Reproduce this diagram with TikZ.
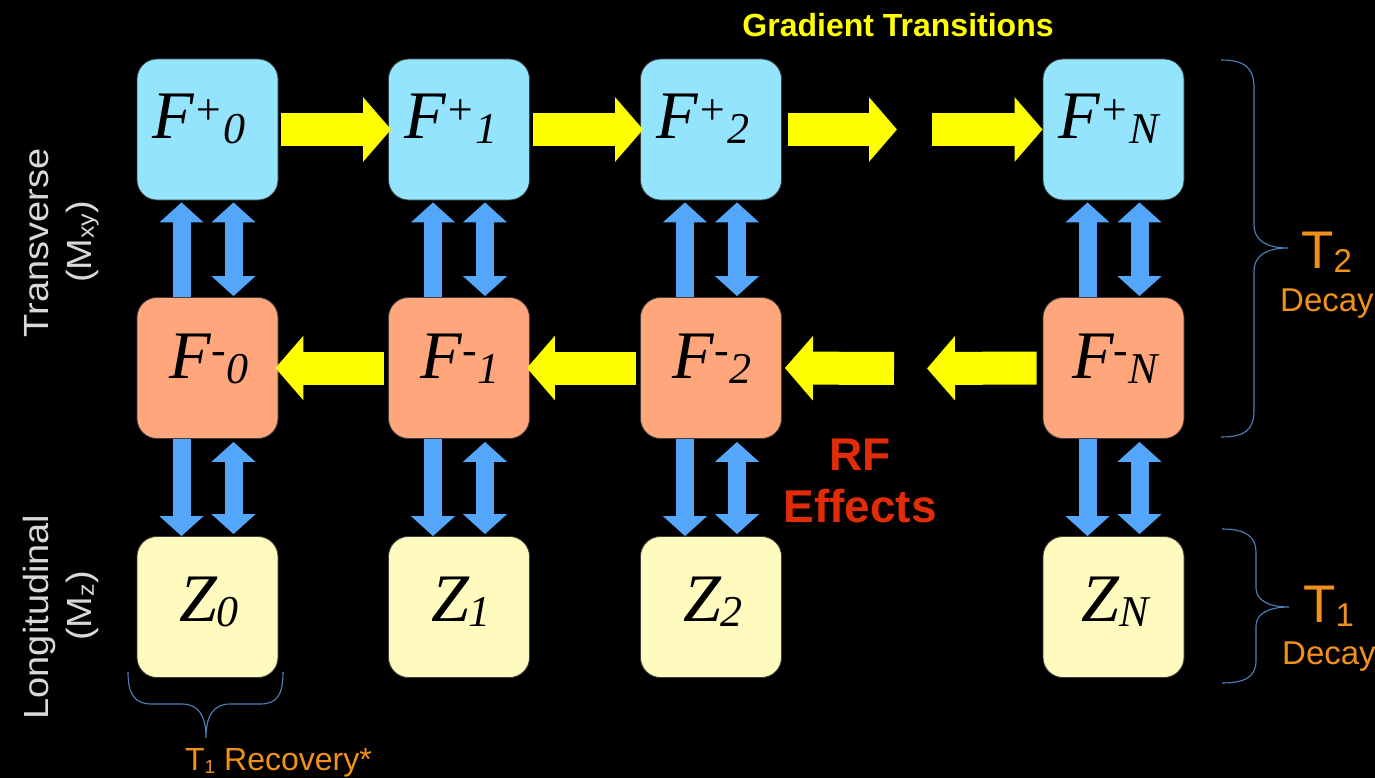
\documentclass[tikz,border=0pt]{standalone}
\usepackage{fontspec}
\setmainfont{Liberation Sans}
\newfontfamily\tnr{Liberation Serif}
\usetikzlibrary{arrows.meta}

\definecolor{cplus}{RGB}{148,228,254}
\definecolor{cminus}{RGB}{255,166,124}
\definecolor{clong}{RGB}{255,250,190}
\definecolor{boxedge}{RGB}{60,60,60}
\definecolor{cyel}{RGB}{255,255,0}
\definecolor{cblue}{RGB}{84,166,250}
\definecolor{cbrace}{RGB}{79,129,189}
\definecolor{corange}{RGB}{240,145,25}
\definecolor{cred}{RGB}{226,44,8}
\definecolor{cgray}{RGB}{217,217,217}

% state label: big italic letter, raised sign, lowered index
\newcommand\statelab[3]{{\tnr\itshape\fontsize{68}{68}\selectfont #1\raisebox{14pt}{\fontsize{44}{44}\selectfont #2}\raisebox{-5pt}{\fontsize{44}{44}\selectfont #3}}}

\tikzset{
  box/.style={draw=boxedge, line width=0.8pt, rounded corners=20pt,
    minimum width=141pt, minimum height=141pt, inner sep=0pt},
  plusbox/.style={box, fill=cplus},
  minusbox/.style={box, fill=cminus},
  longbox/.style={box, fill=clong},
  lab/.style={inner sep=0pt, text=black},
  yarrow/.style={draw=cyel, line width=33pt, -{Triangle[length=28pt,width=63pt]}},
  bsingle/.style={draw=cblue, line width=18pt, -{Triangle[length=20pt,width=43pt]}},
  bdouble/.style={draw=cblue, line width=18pt, {Triangle[length=20pt,width=43pt]}-{Triangle[length=20pt,width=43pt]}},
  bracepath/.style={draw=cbrace, line width=1.1pt},
  sidelab/.style={inner sep=0pt, text=cgray, rotate=90, anchor=base},
}

\begin{document}
\begin{tikzpicture}[x=1pt,y=-1pt]
\fill[black] (0,0) rectangle (1375,778);
\useasboundingbox (0,0) rectangle (1375,778);

% ---- state boxes ----
\node[plusbox] (p0) at (207.5,129.5) {};
\node[plusbox] (p1) at (459,129.5) {};
\node[plusbox] (p2) at (711,129.5) {};
\node[plusbox] (pN) at (1113.5,129.5) {};
\node[minusbox] (m0) at (207.5,368) {};
\node[minusbox] (m1) at (459,368) {};
\node[minusbox] (m2) at (711,368) {};
\node[minusbox] (mN) at (1113.5,368) {};
\node[longbox] (z0) at (207.5,607) {};
\node[longbox] (z1) at (459,607) {};
\node[longbox] (z2) at (711,607) {};
\node[longbox] (zN) at (1113.5,607) {};

% ---- state labels ----
\node[lab, anchor=base west] (lp0) at (152,139) {\statelab{F}{+}{0}};
\node[lab, anchor=base west] (lp1) at (404,139) {\statelab{F}{+}{1}};
\node[lab, anchor=base west] (lp2) at (656,139) {\statelab{F}{+}{2}};
\node[lab, anchor=base west] (lpN) at (1058,139) {\statelab{F}{+}{N}};
\node[lab, anchor=base] (lm0) at (209,378) {\statelab{F}{-}{0}};
\node[lab, anchor=base] (lm1) at (460,378) {\statelab{F}{-}{1}};
\node[lab, anchor=base] (lm2) at (712,378) {\statelab{F}{-}{2}};
\node[lab, anchor=base] (lmN) at (1115,378) {\statelab{F}{-}{N}};
\node[lab, anchor=base] (lz0) at (209,621) {\statelab{Z}{}{0}};
\node[lab, anchor=base] (lz1) at (461,621) {\statelab{Z}{}{1}};
\node[lab, anchor=base] (lz2) at (713,621) {\statelab{Z}{}{2}};
\node[lab, anchor=base] (lzN) at (1115.5,621) {\statelab{Z}{}{N}};

% ---- gradient transitions (yellow) ----
\coordinate (g1) at (897,129.5);
\coordinate (g2) at (932,129.5);
\coordinate (h1) at (894,368.5);
\coordinate (h2) at (927,368.5);
\draw[yarrow] ([xshift=3pt]p0.east) -- ([xshift=3pt]p1.west);
\draw[yarrow] ([xshift=3pt]p1.east) -- ([xshift=3pt]p2.west);
\draw[yarrow] ([xshift=6pt]p2.east) -- (g1);
\draw[yarrow] (g2) -- (pN.west);
\draw[yarrow] ([xshift=-4pt]m1.west) -- ([xshift=-3pt]m0.east);
\draw[yarrow] ([xshift=-4pt]m2.west) -- ([xshift=-3pt]m1.east);
\draw[yarrow] (h1) -- ([xshift=3pt]m2.east);
\draw[yarrow] ([xshift=-6pt]mN.west) -- (h2);

% ---- RF effects (blue) ----
\foreach \c in {0,1,2,N}{
  \draw[bsingle] ([xshift=-26pt]m\c.north) -- ([xshift=-26pt,yshift=-2pt]p\c.south);
  \draw[bdouble] ([xshift=26pt,yshift=-2pt]p\c.south) -- ([xshift=26pt,yshift=1pt]m\c.north);
  \draw[bsingle] ([xshift=-26pt]m\c.south) -- ([xshift=-26pt]z\c.north);
  \draw[bdouble] ([xshift=26pt,yshift=-3pt]m\c.south) -- ([xshift=26pt,yshift=2pt]z\c.north);
}

% ---- titles ----
\node[inner sep=0pt, anchor=base, text=cyel, font=\bfseries\fontsize{32}{32}\selectfont] (grad) at (898,37) {Gradient Transitions};
\node[inner sep=0pt, anchor=base, text=cred, font=\bfseries\fontsize{46}{46}\selectfont] (rf1) at (860,470) {RF};
\node[inner sep=0pt, anchor=base, text=cred, font=\bfseries\fontsize{46}{46}\selectfont] (rf2) at (860,522) {Effects};

% ---- side labels ----
\node[sidelab] (trans) at (48,243) {\scalebox{1}[0.92]{\fontsize{38}{38}\selectfont Transverse}};
\node[sidelab] (mxy) at (91,242) {\scalebox{1}[0.92]{\fontsize{38}{38}\selectfont (M\raisebox{-3pt}{\fontsize{25}{25}\selectfont xy})}};
\node[sidelab] (longi) at (48,617) {\scalebox{1}[0.92]{\fontsize{38}{38}\selectfont Longitudinal}};
\node[sidelab] (mz) at (91,606) {\scalebox{1}[0.92]{\fontsize{38}{38}\selectfont (M\raisebox{-3pt}{\fontsize{25}{25}\selectfont z})}};

% ---- relaxation braces ----
\draw[bracepath] (1221,60) .. controls (1245,60) and (1254,68) .. (1254,88) -- (1254,225)
  .. controls (1254,240) and (1266,248) .. (1288,248)
  .. controls (1266,248) and (1254,256) .. (1254,271) -- (1254,410)
  .. controls (1254,430) and (1245,437) .. (1221,437);
\draw[bracepath] (1222,529) .. controls (1246,529) and (1256,537) .. (1256,552) -- (1256,588)
  .. controls (1256,600) and (1268,607) .. (1289,607)
  .. controls (1268,607) and (1256,614) .. (1256,626) -- (1256,661)
  .. controls (1256,676) and (1246,683) .. (1222,683);
\draw[bracepath] (128,672) .. controls (128,695) and (135,704) .. (152,704) -- (182,704)
  .. controls (198,704) and (206,715) .. (206,738)
  .. controls (206,715) and (214,704) .. (230,704) -- (260,704)
  .. controls (277,704) and (283,695) .. (283,672);

\node[inner sep=0pt, anchor=base west, text=corange, font=\fontsize{53}{53}\selectfont] (t2) at (1301,268) {T\raisebox{-4pt}{\fontsize{33}{33}\selectfont 2}};
\node[inner sep=0pt, anchor=base west, text=corange, font=\fontsize{33}{33}\selectfont] (t2d) at (1280,311) {Decay};
\node[inner sep=0pt, anchor=base west, text=corange, font=\fontsize{53}{53}\selectfont] (t1) at (1303,622) {T\raisebox{-4pt}{\fontsize{33}{33}\selectfont 1}};
\node[inner sep=0pt, anchor=base west, text=corange, font=\fontsize{33}{33}\selectfont] (t1d) at (1282,664) {Decay};
\node[inner sep=0pt, anchor=base west, text=corange, font=\fontsize{32}{32}\selectfont] (t1r) at (185,770) {T\raisebox{-3pt}{\fontsize{19}{19}\selectfont 1} Recovery*};
\end{tikzpicture}
\end{document}
